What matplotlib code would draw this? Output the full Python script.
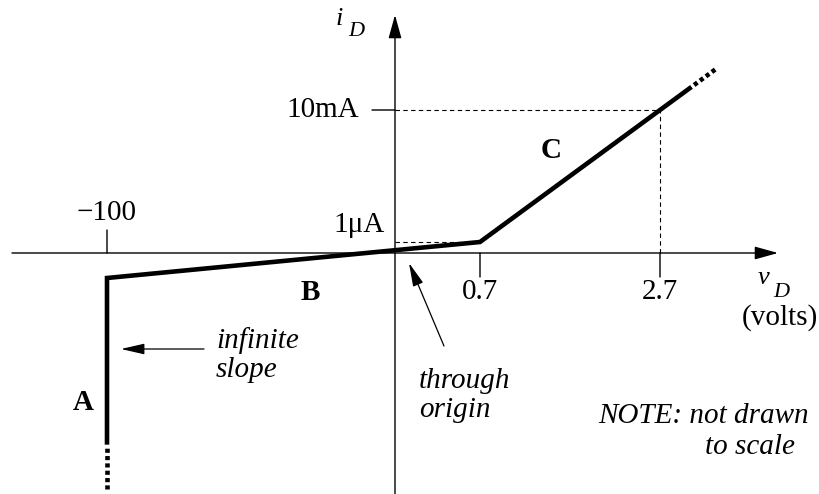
import numpy as np
import matplotlib
matplotlib.use("Agg")
import matplotlib.pyplot as plt
from matplotlib.scale import FuncScale

# ---- piecewise-linear diode model (values in volts / mA) ----
v_knots = [-100.0, 0.0, 0.7, 2.7]
i_knots = [-0.15, 0.0, 0.001, 10.0]

# solid characteristic: A (breakdown), B (reverse/leak), C (forward)
curve_v = [-100.0, -100.0, 0.7, 2.7, 3.05]
curve_i = [-1.15, -0.15, 0.001, 10.0, 11.75]
# dotted continuations
tail_a_v = [-100.0, -100.0]
tail_a_i = [-1.15, -1.42]
tail_c_v = [3.05, 3.34]
tail_c_i = [11.75, 13.2]

x_ticks = [-100.0, 0.7, 2.7]
x_tick_labels = ["\u2212100", "0.7", "2.7"]
y_ticks = [0.001, 10.0]
y_tick_labels = ["1\u03bcA", "10mA"]

# ---- schematic (not to scale) screen placement of the knots, in pixels ----
W, H = 820, 494
ORIGIN = (395, 253)
x_knot_px = [-288, 0, 85, 265]
y_knot_px = [-25, 0, 11, 143]


def piecewise(kv, kp):
    kv = np.asarray(kv, float)
    kp = np.asarray(kp, float)

    def make(a, b):
        s0 = (b[1] - b[0]) / (a[1] - a[0])
        s1 = (b[-1] - b[-2]) / (a[-1] - a[-2])

        def f(x):
            x = np.asarray(x, float)
            y = np.interp(x, a, b)
            y = np.where(x < a[0], b[0] + (x - a[0]) * s0, y)
            y = np.where(x > a[-1], b[-1] + (x - a[-1]) * s1, y)
            return y
        return f

    return make(kv, kp), make(kp, kv)


xf, xinv = piecewise(v_knots, x_knot_px)
yf, yinv = piecewise(i_knots, y_knot_px)

plt.rcParams["font.family"] = ["Liberation Serif", "DejaVu Serif"]
FS = 21

fig = plt.figure(figsize=(W / 100, H / 100), dpi=100)
ax = fig.add_axes([0, 0, 1, 1])
ax.set_xscale(FuncScale(ax.xaxis, (xf, xinv)))
ax.set_yscale(FuncScale(ax.yaxis, (yf, yinv)))
ax.set_xlim(float(xinv(-ORIGIN[0])), float(xinv(W - ORIGIN[0])))
ax.set_ylim(float(yinv(ORIGIN[1] - H)), float(yinv(ORIGIN[1])))
ax.axis("off")


def px(x, y):
    """Figure pixel (from top-left) -> axes fraction."""
    return (x / W, 1 - y / H)


AX_LW = 1.0
# axes with arrowheads
x_lo, x_hi = float(xinv(12 - ORIGIN[0])), float(xinv(778 - ORIGIN[0]))
y_lo, y_hi = float(yinv(ORIGIN[1] - H - 2)), float(yinv(ORIGIN[1] - 15))
axis_arrow = dict(arrowstyle="-|>,head_length=14.4,head_width=4.0",
                  mutation_scale=1, lw=AX_LW, color="black",
                  shrinkA=0, shrinkB=0)
ax.annotate("", xy=(x_hi, 0), xytext=(x_lo, 0), arrowprops=axis_arrow)
ax.annotate("", xy=(0, y_hi), xytext=(0, y_lo), arrowprops=axis_arrow)

# tick marks
tick = dict(arrowstyle="-", lw=AX_LW, color="black", shrinkA=0, shrinkB=0)
ax.annotate("", xy=(x_ticks[0], 0), xytext=(0, 23),
            textcoords="offset pixels", arrowprops=tick)
for v in x_ticks[1:]:
    ax.annotate("", xy=(v, 0), xytext=(0, -24),
                textcoords="offset pixels", arrowprops=tick)
ax.annotate("", xy=(0, y_ticks[1]), xytext=(-23, 0),
            textcoords="offset pixels", arrowprops=tick)

# dashed guides
dash = dict(color="black", lw=0.8, dashes=(4, 3))
ax.plot([0, x_ticks[2]], [y_ticks[1], y_ticks[1]], **dash)
ax.plot([x_ticks[2], x_ticks[2]], [0, y_ticks[1]], **dash)
ax.plot([0, x_ticks[1]], [y_ticks[0], y_ticks[0]], **dash)

# characteristic
LW = 3.3
ax.plot(curve_v, curve_i, color="black", lw=LW, solid_joinstyle="miter",
        solid_capstyle="butt", zorder=5)
dot = (0.9, (0.9, 0.7))
ax.plot(tail_a_v, tail_a_i, color="black", lw=LW, linestyle=dot,
        dash_capstyle="butt", zorder=5)
ax.plot(tail_c_v, tail_c_i, color="black", lw=LW, linestyle=dot,
        dash_capstyle="butt", zorder=5)

# tick labels
ax.annotate(x_tick_labels[0], xy=(x_ticks[0], 0), xytext=(0, 40),
            textcoords="offset pixels", ha="center", va="center", fontsize=FS)
for v, lab in zip(x_ticks[1:], x_tick_labels[1:]):
    ax.annotate(lab, xy=(v, 0), xytext=(0, -39), textcoords="offset pixels",
                ha="center", va="center", fontsize=FS)
ax.annotate(y_tick_labels[1], xy=(0, y_ticks[1]), xytext=(-36, 0),
            textcoords="offset pixels", ha="right", va="center", fontsize=FS)
ax.annotate(y_tick_labels[0], xy=(0, y_ticks[0]), xytext=(-10, 17),
            textcoords="offset pixels", ha="right", va="center", fontsize=FS)

# axis names
T = ax.transAxes
ax.text(*px(339, 19), "i", transform=T, fontsize=19, style="italic",
        ha="center", va="center")
ax.text(*px(356, 31), "D", transform=T, fontsize=16, style="italic",
        ha="center", va="center")
ax.text(*px(764, 278), "v", transform=T, fontsize=19, style="italic",
        ha="center", va="center")
ax.text(*px(781, 292), "D", transform=T, fontsize=16, style="italic",
        ha="center", va="center")
ax.text(*px(780, 318), "(volts)", transform=T, fontsize=FS,
        ha="center", va="center")

# region letters
for lab, (x, y) in {"A": (83, 402), "B": (310, 293), "C": (551, 150)}.items():
    ax.text(*px(x, y), lab, transform=T, fontsize=FS, weight="bold",
            ha="center", va="center")

# annotations
note_arrow = dict(arrowstyle="-|>,head_length=14.4,head_width=3.3",
                  mutation_scale=1, lw=0.9, color="black",
                  shrinkA=0, shrinkB=0)
ax.annotate("", xy=px(121, 349), xytext=px(204, 349), xycoords=T,
            textcoords=T, arrowprops=note_arrow)
ax.text(*px(216, 355), "infinite\nslope", transform=T, fontsize=FS,
        style="italic", ha="left", va="center", linespacing=1.15)

ax.annotate("", xy=px(409, 263), xytext=px(444, 346), xycoords=T,
            textcoords=T, arrowprops=note_arrow)
ax.text(*px(419, 395), "through\norigin", transform=T, fontsize=FS,
        style="italic", ha="left", va="center", linespacing=1.15)

ax.text(*px(809, 416), "NOTE: not drawn", transform=T, fontsize=FS,
        style="italic", ha="right", va="center")
ax.text(*px(795, 447), "to scale", transform=T, fontsize=FS,
        style="italic", ha="right", va="center")

fig.savefig("out.png", dpi=100)
